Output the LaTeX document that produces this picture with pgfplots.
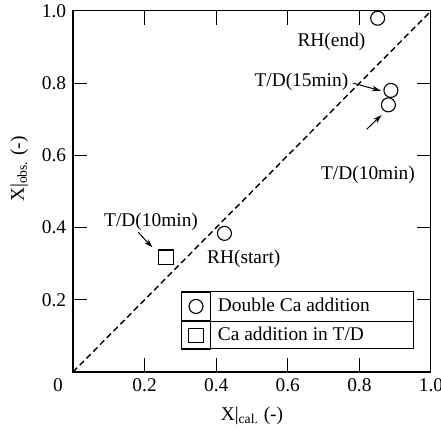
\documentclass[border=0pt]{standalone}
\usepackage{fontspec}
\setmainfont{Liberation Serif}
\usepackage{pgfplots}
\pgfplotsset{compat=1.18}
\usetikzlibrary{arrows.meta,calc}

% legend cell: fixed-size box with the mark in the middle
\pgfplotsset{celllegend/.style={legend image code/.code={%
  \path (-7.25pt,-7.1pt) rectangle (7.25pt,7.1pt);
  \draw[mark repeat=1,mark phase=1,##1] plot coordinates {(0pt,0pt)};}}}

\begin{document}
\fontsize{9.7}{11.6}\selectfont
\begin{tikzpicture}
\begin{axis}[
  name=ax,
  scale only axis, width=179pt, height=180.5pt,
  xmin=0, xmax=1, ymin=0, ymax=1,
  xtick={0.2,0.4,0.6,0.8,1.0}, xticklabels={0.2,0.4,0.6,0.8,1.0},
  ytick={0.2,0.4,0.6,0.8,1.0}, yticklabels={0.2,0.4,0.6,0.8,1.0},
  extra x ticks={0}, extra x tick labels={0},
  extra x tick style={major tick length=0pt, xticklabel style={xshift=-7.5pt}},
  tick align=inside, major tick length=7pt,
  tick style={black, line width=0.5pt},
  axis line style={line width=0.5pt},
  /pgf/number format/assume math mode=true,
  xlabel={X\textbar\textsubscript{cal.} (-)},
  ylabel={X\textbar\textsubscript{obs.} (-)},
  xlabel style={at={(rel axis cs:0.5,-0.133)}, anchor=base},
  ylabel style={at={(rel axis cs:-0.137,0.562)}, anchor=base},
  legend style={at={(rel axis cs:0.302,0.222)}, anchor=north west,
    draw=none, fill=none, inner sep=0pt, outer sep=0pt,
    row sep=0pt, column sep=3.5pt, nodes={inner sep=0pt, anchor=west}},
  legend cell align=left,
  clip=false,
]
\addplot[black, line width=0.7pt, dash pattern=on 3pt off 1.8pt, forget plot]
  coordinates {(0,0) (1,1)};

\addplot[only marks, mark=o, mark size=3.5pt, black, mark options={line width=0.55pt}, celllegend]
  coordinates {(0.423,0.384) (0.851,0.980) (0.888,0.780) (0.881,0.740)};
\addlegendentry{Double Ca addition}
\addplot[only marks, mark=square, mark size=3.6pt, black, mark options={line width=0.55pt}, celllegend]
  coordinates {(0.260,0.318)};
\addlegendentry{Ca addition in T/D}

% legend frame
\draw[line width=0.5pt] (rel axis cs:0.302,0.222) rectangle (rel axis cs:0.950,0.064);
\draw[line width=0.5pt] (rel axis cs:0.302,0.141) -- (rel axis cs:0.950,0.141);
\draw[line width=0.5pt] (rel axis cs:0.383,0.222) -- (rel axis cs:0.383,0.064);

% heavier left and bottom axis lines
\draw[line width=1.2pt] (rel axis cs:0,1) -- (rel axis cs:0,0) -- (rel axis cs:1,0);

% annotations
\node[anchor=base] at (axis cs:0.722,0.901) {RH(end)};
\node[anchor=base] at (axis cs:0.638,0.792) {T/D(15min)};
\draw[line width=0.5pt, -{Stealth[length=4.5pt,width=2.8pt]}] (axis cs:0.783,0.800) -- (axis cs:0.860,0.779);
\node[anchor=base] at (axis cs:0.824,0.534) {T/D(10min)};
\draw[line width=0.5pt, -{Stealth[length=4.5pt,width=2.8pt]}] (axis cs:0.820,0.672) -- (axis cs:0.862,0.712);
\node[anchor=base] at (axis cs:0.218,0.402) {T/D(10min)};
\draw[line width=0.5pt, -{Stealth[length=4.5pt,width=2.8pt]}] (axis cs:0.182,0.387) -- (axis cs:0.222,0.345);
\node[anchor=base] at (axis cs:0.477,0.301) {RH(start)};
\end{axis}
\pgfresetboundingbox
\path ($(ax.south west)+(-36.5pt,-28pt)$) rectangle ($(ax.north east)+(5pt,5.5pt)$);
\end{tikzpicture}
\end{document}
